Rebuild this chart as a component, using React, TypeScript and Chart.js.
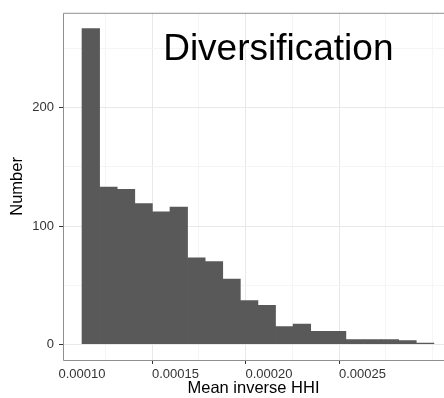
import React, { useEffect, useRef } from 'react';
import { Chart, registerables } from 'chart.js';

Chart.register(...registerables);

// Histogram bin centres (Mean inverse HHI) and counts
const binCenters = [
  0.000104705, 0.000114115, 0.000123525, 0.000132935, 0.000142345,
  0.000151755, 0.000161165, 0.000170575, 0.000179985, 0.000189395,
  0.000198805, 0.000208215, 0.000217625, 0.000227035, 0.000236445,
  0.000245855, 0.000255265, 0.000264675, 0.000274085, 0.000283495,
];
const counts = [267, 133, 131, 119, 112, 116, 73, 70, 55, 37, 33, 15, 17, 11, 11, 4, 4, 4, 3, 1];

const xMajorTicks = [0.0001, 0.00015, 0.0002, 0.00025];
const xTickLabels = ['0.00010', '0.00015', '0.00020', '0.00025'];
const xMinorTicks = [0.000125, 0.000175, 0.000225, 0.000275];
const yMajorTicks = [0, 100, 200];
const yTickLabels = ['0', '100', '200'];
const yMinorTicks = [50, 150, 250];

const X_MIN = 0.00008983;
const X_MAX = 0.00029363;
const Y_MIN = -13.35;
const Y_MAX = 280.35;

const annotationText = 'Diversification';
const annotationX = 0.000205;
const annotationY = 249;

const FONT = '"Liberation Sans", Arial, Helvetica, sans-serif';

export default function App() {
  const ref = useRef<HTMLCanvasElement | null>(null);

  useEffect(() => {
    if (!ref.current) return;

    const panelPlugin = {
      id: 'panelBorder',
      afterDatasetsDraw(chart: any) {
        const { ctx, chartArea, scales } = chart;
        // annotation text
        ctx.save();
        ctx.font = `37px ${FONT}`;
        ctx.fillStyle = '#000000';
        ctx.textAlign = 'center';
        ctx.textBaseline = 'middle';
        ctx.fillText(annotationText, scales.x.getPixelForValue(annotationX), scales.y.getPixelForValue(annotationY));
        ctx.restore();
      },
      afterDraw(chart: any) {
        const { ctx, chartArea } = chart;
        ctx.save();
        ctx.strokeStyle = '#8f8f8f';
        ctx.lineWidth = 1;
        ctx.beginPath();
        ctx.moveTo(chartArea.right + 1, chartArea.top + 0.5);
        ctx.lineTo(chartArea.left + 0.5, chartArea.top + 0.5);
        ctx.lineTo(chartArea.left + 0.5, chartArea.bottom + 0.5);
        ctx.lineTo(chartArea.right + 1, chartArea.bottom + 0.5);
        ctx.stroke();
        ctx.restore();
      },
    };

    const chart = new Chart(ref.current, {
      type: 'bar',
      data: {
        datasets: [
          {
            data: binCenters.map((x, i) => ({ x, y: counts[i] })),
            backgroundColor: '#595959',
            borderWidth: 0,
            barPercentage: 1,
            categoryPercentage: 1,
          },
        ],
      },
      options: {
        responsive: false,
        animation: false,
        devicePixelRatio: 1,
        layout: { padding: { top: 8, left: 0, right: 0, bottom: 0 } },
        plugins: { legend: { display: false }, tooltip: { enabled: false } },
        scales: {
          x: {
            type: 'linear',
            min: X_MIN,
            max: X_MAX,
            offset: false,
            afterBuildTicks: (s: any) => {
              s.ticks = [...xMinorTicks, ...xMajorTicks].sort((a, b) => a - b).map((v) => ({ value: v }));
            },
            afterFit: (s: any) => {
              s.height = 38;
            },
            ticks: {
              autoSkip: false,
              maxRotation: 0,
              minRotation: 0,
              padding: 3,
              color: '#333333',
              font: { family: FONT, size: 13 },
              callback: (v: any) => {
                const i = xMajorTicks.indexOf(v);
                return i >= 0 ? xTickLabels[i] : '';
              },
            },
            grid: {
              color: (c: any) => (xMajorTicks.includes(c.tick?.value) ? '#e8e8e8' : '#f5f5f5'),
              tickColor: (c: any) => (xMajorTicks.includes(c.tick?.value) ? '#333333' : 'rgba(0,0,0,0)'),
              tickLength: 4,
              lineWidth: 1,
            },
            border: { display: false },
            title: {
              display: true,
              text: 'Mean inverse HHI',
              color: '#000000',
              font: { family: FONT, size: 16.5 },
              padding: { top: 0, bottom: 0 },
            },
          },
          y: {
            type: 'linear',
            min: Y_MIN,
            max: Y_MAX,
            afterBuildTicks: (s: any) => {
              s.ticks = [...yMinorTicks, ...yMajorTicks].sort((a, b) => a - b).map((v) => ({ value: v }));
            },
            afterFit: (s: any) => {
              s.width = 63;
            },
            ticks: {
              autoSkip: false,
              padding: 5,
              color: '#333333',
              font: { family: FONT, size: 13 },
              callback: (v: any) => {
                const i = yMajorTicks.indexOf(v);
                return i >= 0 ? yTickLabels[i] : '';
              },
            },
            grid: {
              color: (c: any) => (yMajorTicks.includes(c.tick?.value) ? '#e8e8e8' : '#f5f5f5'),
              tickColor: (c: any) => (yMajorTicks.includes(c.tick?.value) ? '#333333' : 'rgba(0,0,0,0)'),
              tickLength: 4,
              lineWidth: 1,
            },
            border: { display: false },
            title: {
              display: true,
              text: 'Number',
              color: '#000000',
              font: { family: FONT, size: 16.5 },
              padding: { top: 8, bottom: 0 },
            },
          },
        },
      },
      plugins: [panelPlugin],
    } as any);

    return () => chart.destroy();
  }, []);

  return (
    <div style={{ position: 'absolute', left: 0, top: 0, width: 444, height: 398, background: '#ffffff' }}>
      <canvas ref={ref} width={444} height={398} style={{ display: 'block' }} />
    </div>
  );
}
